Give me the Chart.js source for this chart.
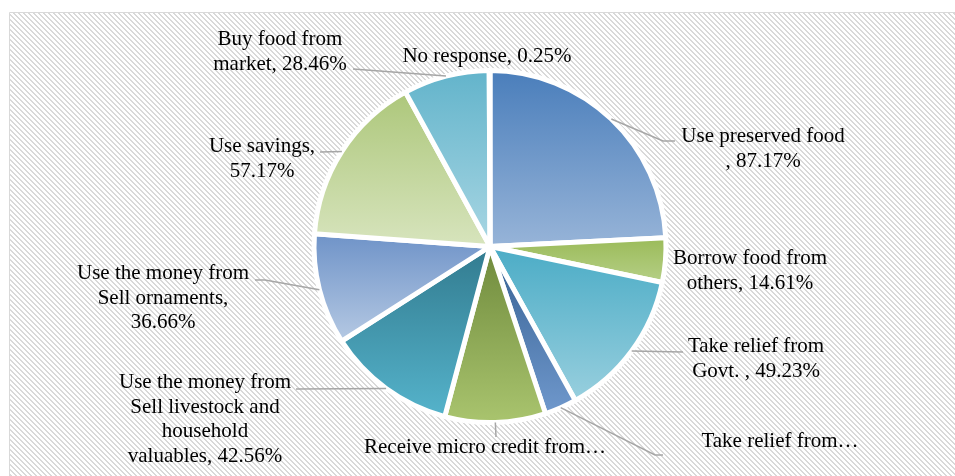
<!DOCTYPE html>
<html>
<head>
<meta charset="utf-8">
<script src="https://cdn.jsdelivr.net/npm/chart.js@4"></script>
<style>
  html, body { margin: 0; padding: 0; background: #fff; }
  canvas { display: block; }
</style>
</head>
<body>
<canvas id="copingChart" width="955" height="476"></canvas>
<script>
// coping strategies, share of households (%)
const strategies = [
    'Use preserved food',
    'Borrow food from others',
    'Take relief from Govt.',
    'Take relief from NGO',
    'Receive micro credit from NGO',
    'Use the money from Sell livestock and household valuables',
    'Use the money from Sell ornaments',
    'Use savings',
    'Buy food from market',
    'No response'
];
const shares = [87.17, 14.61, 49.23, 10.62, 33.27, 42.56, 36.66, 57.17, 28.46, 0.25];

// text shown next to each slice
const labelLines = [
    ['Use preserved food', ', 87.17%'],
    ['Borrow food from', 'others, 14.61%'],
    ['Take relief from', 'Govt. , 49.23%'],
    ['Take relief from\u2026'],
    ['Receive micro credit from\u2026'],
    ['Use the money from', 'Sell livestock and', 'household', 'valuables, 42.56%'],
    ['Use the money from', 'Sell ornaments,', '36.66%'],
    ['Use savings,', '57.17%'],
    ['Buy food from', 'market, 28.46%'],
    ['No response, 0.25%']
];

// gradient ends per slice (top -> bottom)
const topColors = ['#4a7ebb', '#9bbb59', '#4bacc6', '#366092', '#6f8a3c', '#327b8f', '#6f93c8', '#adc77b', '#63b4cb', '#4f81bd'];
const bottomColors = ['#97b4d8', '#b5cf86', '#98cfde', '#6f98cc', '#a9c46e', '#55b3cb', '#b5c9e3', '#d7e4bd', '#a8d6e3', '#95b3d7'];

// label placement: [centre x, first baseline]
const labelAt = [[763, 142], [750, 264], [756, 352], [780, 447], [485, 453],
                 [205, 388], [163, 279], [262, 152], [280, 45], [487, 62]];
// leader line points running from the slice edge outwards
const leaderTo = [
    [[663, 141], [675, 141]],
    null,
    [[683, 352]],
    [[655, 455], [663, 455]],
    [[496, 437]],
    [[296, 389]],
    [[265, 280], [255, 280]],
    [[320, 152]],
    [[353, 69]],
    null
];

const sliceBorder = 5;

function sliceFill(ctx) {
    const i = ctx.dataIndex;
    const chart = ctx.chart;
    const area = chart.chartArea;
    if (!area || i === undefined) return topColors[i || 0];
    const cx = (area.left + area.right) / 2;
    const cy = (area.top + area.bottom) / 2;
    const r = chart.getDatasetMeta(0).controller.outerRadius || 176;
    const total = shares.reduce((a, b) => a + b, 0);
    const before = shares.slice(0, i).reduce((a, b) => a + b, 0);
    const a0 = before / total * 2 * Math.PI;
    const a1 = (before + shares[i]) / total * 2 * Math.PI;
    let top = cy, bottom = cy;
    for (let k = 0; k <= 60; k++) {
        const y = cy - r * Math.cos(a0 + (a1 - a0) * k / 60);
        top = Math.min(top, y);
        bottom = Math.max(bottom, y);
    }
    const g = chart.ctx.createLinearGradient(0, top, 0, bottom);
    g.addColorStop(0, topColors[i]);
    g.addColorStop(1, bottomColors[i]);
    return g;
}

function hatchPattern(ctx) {
    const tile = document.createElement('canvas');
    tile.width = 5;
    tile.height = 5;
    const t = tile.getContext('2d');
    t.fillStyle = '#ffffff';
    t.fillRect(0, 0, 5, 5);
    t.fillStyle = '#d9d9d9';
    for (let y = 0; y < 5; y++) {
        for (let x = 0; x < 5; x++) {
            if (((x - y) % 5 + 5) % 5 < 2) t.fillRect(x, y, 1, 1);
        }
    }
    return ctx.createPattern(tile, 'repeat');
}

const backdrop = {
    id: 'backdrop',
    beforeDraw(chart) {
        const ctx = chart.ctx;
        ctx.save();
        ctx.fillStyle = '#ffffff';
        ctx.fillRect(0, 0, chart.width, chart.height);
        ctx.fillStyle = hatchPattern(ctx);
        ctx.fillRect(10, 13, chart.width, chart.height);
        ctx.strokeStyle = '#d9d9d9';
        ctx.lineWidth = 1;
        ctx.beginPath();
        ctx.moveTo(9.5, chart.height);
        ctx.lineTo(9.5, 12.5);
        ctx.lineTo(chart.width, 12.5);
        ctx.stroke();
        ctx.restore();
    }
};

const sliceLabels = {
    id: 'sliceLabels',
    afterDatasetsDraw(chart) {
        const ctx = chart.ctx;
        const arcs = chart.getDatasetMeta(0).data;
        ctx.save();
        ctx.strokeStyle = '#a6a6a6';
        ctx.lineWidth = 1.5;
        arcs.forEach((arc, i) => {
            if (!leaderTo[i]) return;
            const p = arc.getProps(['x', 'y', 'startAngle', 'endAngle', 'outerRadius'], true);
            const mid = (p.startAngle + p.endAngle) / 2;
            ctx.beginPath();
            ctx.moveTo(p.x + p.outerRadius * Math.cos(mid), p.y + p.outerRadius * Math.sin(mid));
            leaderTo[i].forEach(pt => ctx.lineTo(pt[0], pt[1]));
            ctx.stroke();
        });
        ctx.fillStyle = '#000000';
        ctx.font = '21px "Liberation Serif", "Times New Roman", serif';
        ctx.textAlign = 'center';
        ctx.textBaseline = 'alphabetic';
        labelLines.forEach((lines, i) => {
            const [x, y] = labelAt[i];
            lines.forEach((line, k) => ctx.fillText(line, x, y + k * 24.7));
        });
        ctx.restore();
    }
};

new Chart(document.getElementById('copingChart'), {
    type: 'pie',
    data: {
        labels: strategies,
        datasets: [{
            data: shares,
            backgroundColor: sliceFill,
            borderColor: '#ffffff',
            borderWidth: sliceBorder
        }]
    },
    options: {
        responsive: false,
        animation: false,
        radius: 176,
        layout: { padding: { left: 150, right: 125, top: 40, bottom: 23 } },
        plugins: {
            legend: { display: false },
            tooltip: { enabled: false }
        }
    },
    plugins: [backdrop, sliceLabels]
});
</script>
</body>
</html>
